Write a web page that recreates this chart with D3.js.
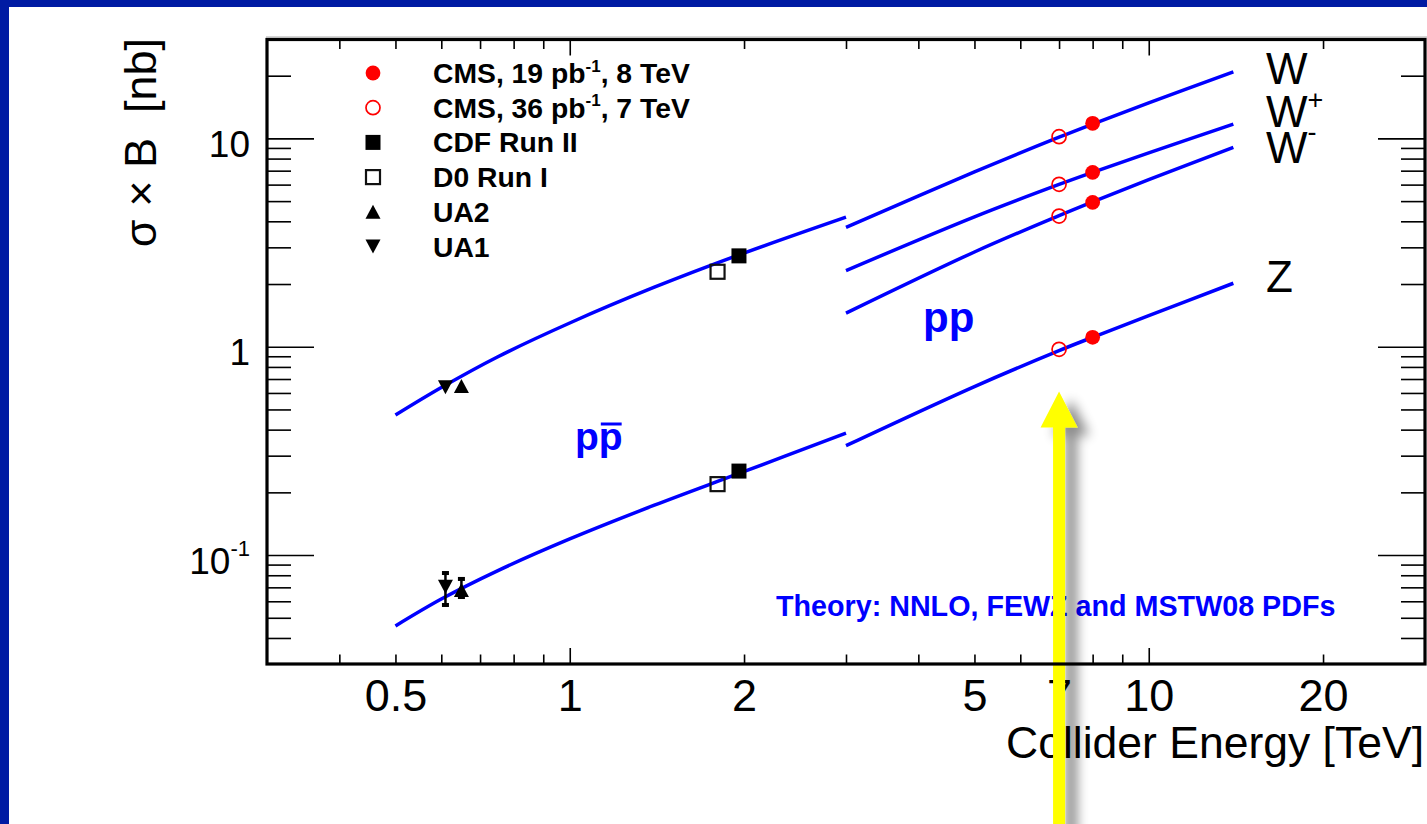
<!DOCTYPE html>
<html><head><meta charset="utf-8">
<script src="https://cdn.jsdelivr.net/npm/d3@7"></script>
<style>
html,body{margin:0;padding:0;background:#fff;}
svg{display:block;}
text{font-family:"Liberation Sans", Arial, Helvetica, sans-serif;}
</style></head><body>
<svg id="c" width="1427" height="824"></svg>
<script>
// ---------------- data ----------------
const xDomain = [0.3, 30];
const yDomain = [0.03, 30];
const xMajorTicks = [1, 10];
const xMinorTicks = [0.4, 0.5, 0.6, 0.7, 0.8, 0.9, 2, 3, 4, 5, 6, 7, 8, 9, 20];
const xTickLabels = [0.5, 1, 2, 5, 7, 10, 20];
const yMajorTicks = [0.1, 1, 10];
const yMinorTicks = [0.04, 0.05, 0.06, 0.07, 0.08, 0.09, 0.2, 0.3, 0.4, 0.5, 0.6, 0.7, 0.8, 0.9,
                     2, 3, 4, 5, 6, 7, 8, 9, 20];
const yTickLabels = [0.1, 1, 10];

// theory curves (NNLO) ppbar, 0.5 - 3 TeV
const ppbarEnergy = [0.5, 0.6, 0.75, 1.0, 1.4, 1.96, 3.0];
const ppbarW = [0.470, 0.637, 0.893, 1.30, 1.93, 2.76, 4.19];
const ppbarZ = [0.0457, 0.0615, 0.0840, 0.1195, 0.1735, 0.2465, 0.385];
// pp, 3 - 14 TeV
const ppEnergy = [3, 5, 7, 8, 10, 14];
const ppW = [3.74, 6.90, 10.13, 11.71, 14.80, 20.86];
const ppWplus = [2.32, 4.20, 6.01, 6.87, 8.53, 11.71];
const ppWminus = [1.45, 2.85, 4.26, 4.96, 6.34, 9.06];
const ppZ = [0.335, 0.644, 0.958, 1.11, 1.41, 2.017];

// measurements
const cms8Energy = 8;
const cms8Values = [11.81, 6.87, 4.93, 1.11];     // W, W+, W-, Z
const cms7Energy = 7;
const cms7Values = [10.19, 6.02, 4.24, 0.972];
const cdfEnergy = 1.96;
const cdfValues = [2.73, 0.253];                  // W, Z
const d0Energy = 1.8;
const d0Values = [2.29, 0.219];
const ua2Energy = 0.65;
const ua2Values = [0.648, 0.068];
const ua2ZErr = [0.0629, 0.0768];
const ua1Energy = 0.61;
const ua1Values = [0.639, 0.0705];
const ua1ZErr = [0.0576, 0.082];

const legendMarkers = ["fcircle", "ocircle", "fsquare", "osquare", "utri", "dtri"];
const legendLabels = [
  ["CMS, 19 pb", "-1", ", 8 TeV"],
  ["CMS, 36 pb", "-1", ", 7 TeV"],
  ["CDF Run II"],
  ["D0 Run I"],
  ["UA2"],
  ["UA1"]
];
const bosonLabels = [["W", ""], ["W", "+"], ["W", "-"], ["Z", ""]];

// ---------------- drawing ----------------
const W = 1427, H = 824;
const svg = d3.select("#c");
const defs = svg.append("defs");
const f = defs.append("filter").attr("id", "sh").attr("x", "-100%").attr("y", "-20%").attr("width", "300%").attr("height", "140%");
f.append("feGaussianBlur").attr("in", "SourceAlpha").attr("stdDeviation", 6).attr("result", "b");
f.append("feOffset").attr("in", "b").attr("dx", 12).attr("dy", 8).attr("result", "o");
const ct = f.append("feComponentTransfer").attr("in", "o").attr("result", "s");
ct.append("feFuncA").attr("type", "linear").attr("slope", 0.45);
const fm = f.append("feMerge");
fm.append("feMergeNode").attr("in", "s");
fm.append("feMergeNode").attr("in", "SourceGraphic");

svg.append("rect").attr("width", W).attr("height", H).attr("fill", "#001BA3");
svg.append("rect").attr("x", 9).attr("y", 7).attr("width", W - 9).attr("height", H - 7).attr("fill", "#fff");

const x = d3.scaleLog().domain(xDomain).range([267, 1425]);
const y = d3.scaleLog().domain(yDomain).range([664, 39]);

// faint line above frame
svg.append("line").attr("x1", 266).attr("x2", W).attr("y1", 37).attr("y2", 37)
  .attr("stroke", "#aaa").attr("stroke-width", 1);

function tickAxis(axis, tr) {
  const g = svg.append("g").attr("transform", tr).call(axis);
  g.select(".domain").remove();
  g.selectAll("line").attr("stroke", "#000").attr("stroke-width", 1.6);
  g.selectAll("text").remove();
  return g;
}
tickAxis(d3.axisBottom(x).tickValues(xMinorTicks).tickSize(-9.5), "translate(0,664)");
tickAxis(d3.axisBottom(x).tickValues(xMajorTicks).tickSize(-16), "translate(0,664)");
tickAxis(d3.axisTop(x).tickValues(xMinorTicks).tickSize(-9.5), "translate(0,39.5)");
tickAxis(d3.axisTop(x).tickValues(xMajorTicks).tickSize(-16), "translate(0,39.5)");
tickAxis(d3.axisLeft(y).tickValues(yMinorTicks).tickSize(-24), "translate(267,0)");
tickAxis(d3.axisLeft(y).tickValues(yMajorTicks).tickSize(-47), "translate(267,0)");
tickAxis(d3.axisRight(y).tickValues(yMinorTicks).tickSize(-24), "translate(1425,0)");
tickAxis(d3.axisRight(y).tickValues(yMajorTicks).tickSize(-47), "translate(1425,0)");

// x tick labels
const gxl = svg.append("g").attr("transform", "translate(0,664)")
  .call(d3.axisBottom(x).tickValues(xTickLabels).tickSize(0).tickFormat(d => String(d)));
gxl.select(".domain").remove();
gxl.attr("font-family", null).attr("font-size", null);
gxl.selectAll("text").attr("y", 47).attr("dy", null).attr("fill", "#000")
  .style("font-size", "45px");

// y tick labels
const gyl = svg.append("g").attr("transform", "translate(267,0)")
  .call(d3.axisLeft(y).tickValues(yTickLabels).tickSize(0).tickFormat(""));
gyl.select(".domain").remove();
gyl.selectAll(".tick").each(function (d) {
  const t = d3.select(this).append("text").attr("x", -17).attr("y", 18)
    .attr("text-anchor", "end").attr("fill", "#000").style("font-size", "37px");
  if (d < 1) {
    t.append("tspan").text("10");
    t.append("tspan").attr("dy", -18).style("font-size", "22px").text("-1");
  } else {
    t.text(String(d));
  }
});

// axis titles
svg.append("text").attr("x", 1424).attr("y", 758).attr("text-anchor", "end")
  .style("font-size", "44.5px").attr("fill", "#000").text("Collider Energy [TeV]");
svg.append("text").attr("transform", "translate(156,38) rotate(-90)").attr("text-anchor", "end")
  .style("font-size", "45px").style("white-space", "pre").attr("fill", "#000").text("σ × B  [nb]");

// curves
const line = d3.line().x(d => x(d[0])).y(d => y(d[1])).curve(d3.curveCatmullRom.alpha(0.5));
const curves = [
  d3.zip(ppbarEnergy, ppbarW), d3.zip(ppbarEnergy, ppbarZ),
  d3.zip(ppEnergy, ppW), d3.zip(ppEnergy, ppWplus), d3.zip(ppEnergy, ppWminus), d3.zip(ppEnergy, ppZ)
];
svg.append("g").selectAll("path").data(curves).join("path")
  .attr("d", line).attr("fill", "none").attr("stroke", "#0000FF").attr("stroke-width", 3.5);

// markers
function marker(g, type, cx, cy) {
  if (type === "fcircle") g.append("circle").attr("cx", cx).attr("cy", cy).attr("r", 7.4).attr("fill", "#FF0000");
  else if (type === "ocircle") g.append("circle").attr("cx", cx).attr("cy", cy).attr("r", 7).attr("fill", "none").attr("stroke", "#FF0000").attr("stroke-width", 1.7);
  else if (type === "fsquare") g.append("rect").attr("x", cx - 7.5).attr("y", cy - 7.5).attr("width", 15).attr("height", 15).attr("fill", "#000");
  else if (type === "osquare") g.append("rect").attr("x", cx - 7).attr("y", cy - 7).attr("width", 14).attr("height", 14).attr("fill", "none").attr("stroke", "#111").attr("stroke-width", 2.2);
  else if (type === "utri") g.append("path").attr("d", `M${cx - 7.5},${cy + 7}L${cx + 7.5},${cy + 7}L${cx},${cy - 7}Z`).attr("fill", "#000");
  else if (type === "dtri") g.append("path").attr("d", `M${cx - 7.5},${cy - 7}L${cx + 7.5},${cy - 7}L${cx},${cy + 7}Z`).attr("fill", "#000");
}
const gm = svg.append("g");
function errBar(e, lo, hi) {
  gm.append("line").attr("x1", x(e)).attr("x2", x(e)).attr("y1", y(lo)).attr("y2", y(hi)).attr("stroke", "#000").attr("stroke-width", 2.5);
  [lo, hi].forEach(v => gm.append("rect").attr("x", x(e) - 3.5).attr("y", y(v) - 2).attr("width", 7).attr("height", 4).attr("fill", "#000"));
}
errBar(ua1Energy, ua1ZErr[0], ua1ZErr[1]);
errBar(ua2Energy, ua2ZErr[0], ua2ZErr[1]);
ua1Values.forEach(v => marker(gm, "dtri", x(ua1Energy), y(v)));
ua2Values.forEach(v => marker(gm, "utri", x(ua2Energy), y(v)));
d0Values.forEach(v => marker(gm, "osquare", x(d0Energy), y(v)));
cdfValues.forEach(v => marker(gm, "fsquare", x(cdfEnergy), y(v)));
cms7Values.forEach(v => marker(gm, "ocircle", x(cms7Energy), y(v)));
cms8Values.forEach(v => marker(gm, "fcircle", x(cms8Energy), y(v)));

// legend
const gl = svg.append("g");
legendLabels.forEach((parts, i) => {
  const cy = 73 + i * 34.7;
  marker(gl, legendMarkers[i], 373, cy);
  const t = gl.append("text").attr("x", 433).attr("y", cy + 10).attr("fill", "#000")
    .style("font-size", "28.3px").style("font-weight", "bold");
  t.append("tspan").text(parts[0]);
  if (parts.length > 1) {
    t.append("tspan").attr("dy", -11.5).style("font-size", "17px").text(parts[1]);
    t.append("tspan").attr("dy", 11.5).text(parts[2]);
  }
});

// boson labels
const bosonY = [84, 127, 163, 292];
bosonLabels.forEach((p, i) => {
  const t = svg.append("text").attr("x", 1266).attr("y", bosonY[i]).attr("fill", "#000").style("font-size", "44px");
  t.append("tspan").text(p[0]);
  if (p[1]) t.append("tspan").attr("dy", p[1] === "+" ? -18 : -22).style("font-size", "27px").text(p[1]);
});

// pp / ppbar labels
svg.append("text").attr("x", 923).attr("y", 332).attr("fill", "#0000FF")
  .style("font-size", "42px").style("font-weight", "bold").text("pp");
const pb = svg.append("text").attr("x", 575).attr("y", 450).attr("fill", "#0000FF")
  .style("font-size", "39px").style("font-weight", "bold").text("pp");
const ext = pb.node().getExtentOfChar(1);
svg.append("line").attr("x1", ext.x + 2).attr("x2", ext.x + ext.width - 1).attr("y1", 424).attr("y2", 424)
  .attr("stroke", "#0000FF").attr("stroke-width", 3);

// theory note
svg.append("text").attr("x", 776).attr("y", 616).attr("fill", "#0000FF")
  .style("font-size", "28.7px").style("font-weight", "bold").text("Theory: NNLO, FEWZ and MSTW08 PDFs");

// yellow arrow annotation at 7 TeV
const ax = x(cms7Energy), tipY = y(0.61);
svg.append("path")
  .attr("d", `M${ax - 6},${H + 10}L${ax - 6},${tipY + 36}L${ax - 18.5},${tipY + 36}L${ax},${tipY}L${ax + 18.5},${tipY + 36}L${ax + 6},${tipY + 36}L${ax + 6},${H + 10}Z`)
  .attr("fill", "#FFFF00").attr("filter", "url(#sh)");

// frame
svg.append("rect").attr("x", 267).attr("y", 39.5).attr("width", 1158).attr("height", 624.5)
  .attr("fill", "none").attr("stroke", "#000").attr("stroke-width", 3.2);
</script>
</body></html>
